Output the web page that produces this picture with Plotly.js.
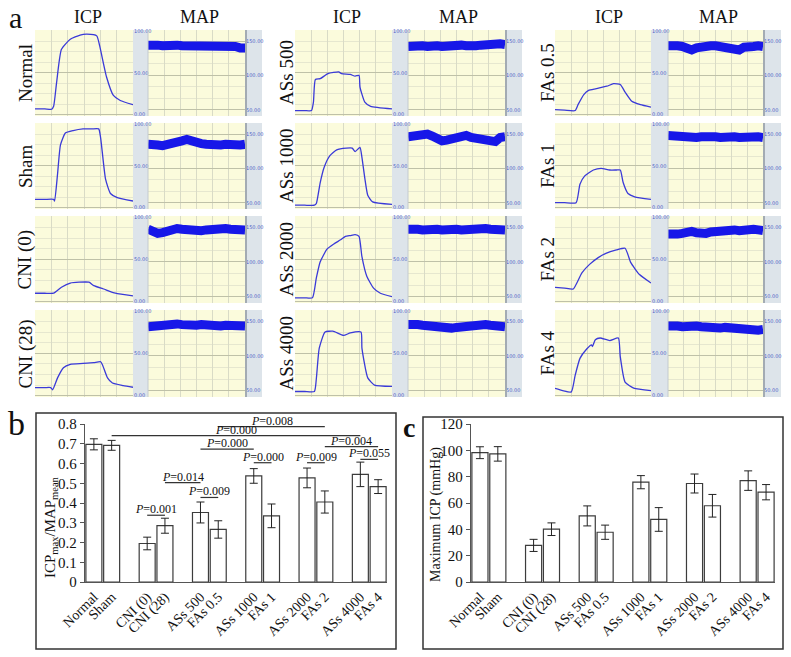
<!DOCTYPE html>
<html><head><meta charset="utf-8">
<script src="https://cdn.plot.ly/plotly-3.0.1.min.js"></script>
<style>html,body{margin:0;padding:0;background:#fff}#chart{width:791px;height:657px}</style>
</head><body><div id="chart"></div>
<script>
// ---------------- DATA ----------------
const groupLabels = ['Normal','Sham','CNI (0)','CNI (28)','ASs 500','FAs 0.5','ASs 1000','FAs 1','ASs 2000','FAs 2','ASs 4000','FAs 4'];
const ratioMean = [0.697,0.692,0.195,0.285,0.352,0.266,0.537,0.335,0.527,0.405,0.545,0.483];
const ratioErr  = [0.028,0.025,0.032,0.038,0.053,0.044,0.037,0.060,0.050,0.056,0.062,0.035];
const icpMaxMean = [98.2,97.3,27.8,40.1,50.2,37.8,75.8,47.5,74.8,57.9,77.0,68.2];
const icpMaxErr  = [4.5,5.5,4.6,4.8,7.6,5.4,5.0,9.0,7.2,8.6,7.4,5.8];

const sigFrom  = ['FAs 0.5','Sham','ASs 500','FAs 2','ASs 1000','ASs 2000','ASs 4000','CNI (28)','ASs 500','CNI (0)'];
const sigTo    = ['FAs 2','ASs 4000','ASs 1000','FAs 4','FAs 1','FAs 2','FAs 4','ASs 500','FAs 0.5','CNI (28)'];
const sigLevel = [0.787,0.741,0.673,0.685,0.604,0.604,0.621,0.503,0.428,0.338];
const sigText  = ['0.008','0.000','0.000','0.004','0.000','0.009','0.055','0.014','0.009','0.001'];

const panelNames = ['Normal','Sham','CNI (0)','CNI (28)','ASs 500','ASs 1000','ASs 2000','ASs 4000','FAs 0.5','FAs 1','FAs 2','FAs 4'];

const icpTNormal = [0,10,17,19,22,27,36,46,53,63,66,73,80,87,100];
const icpVNormal = [7,7,6.5,10,38,78,90,95,96,94,82,45,23,17,12];
const icpTSham   = [0,10,19,20,23,26,31,39,49,58,65,67,72,77,84,100];
const icpVSham   = [10,10,10,8,40,75,89,92,94,94,94,83,34,17,12,8];
const icpTCNI0   = [0,10,19,27,36,45,55,60,70,82,100];
const icpVCNI0   = [10,10,10,17,22,23,23,19,15,10,7];
const icpTCNI28  = [0,10,16,18,23,29,36,49,60,67,69,74,79,90,100];
const icpVCNI28  = [9.6,9.6,9.6,7,21,33,37,38,39,40,36,21,15,12,10];
const icpTAs500  = [0,10,17,19,21,26,34,45,48,57,62,66,67,72,78,100];
const icpVAs500  = [5,5,5,15,42,43,49,51,49,48,46,47,33,15,10,7];
const icpTAs1000 = [0,10,20,22,26,30,36,43,53,59,62,67,69,72,75,80,100];
const icpVAs1000 = [3,3,3,5,30,48,62,69,71,71,67,72,60,35,15,7,4];
const icpTAs2000 = [0,10,18,22,26,33,40,47,52,57,62,66,69,74,81,88,100];
const icpVAs2000 = [4.6,4.6,4.6,28,47,62,68,73,77,78,79,77,53,30,16,10,6];
const icpTAs4000 = [0,10,20,22,25,31,39,50,57,68,69,75,82,100];
const icpVAs4000 = [5,5,5,20,56,75,76,71,74,75,56,21,12.5,11];
const icpTFa05   = [0,10,21,24,30,35,43,54,61,68,73,80,89,100];
const icpVFa05   = [6,5.5,5,12,24,29,31,34,37,36,27,16,12,9];
const icpTFa1    = [0,10,22,26,31,40,48,57,64,68,71,76,83,100];
const icpVFa1    = [6,6,6,28,38,45,47,45,45,45,30,17,13,10];
const icpTFa2    = [0,10,19,28,36,45,53,64,73,79,88,100];
const icpVFa2    = [17,16,15,34,44,52,57,61,63,46,32,22];
const icpTFa4    = [0,8,17,21,26,33,38,39,42,47,57,66,68,73,82,100];
const icpVFa4    = [8.6,6,4.5,24,44,55,60,58,66,68,65,68,46,16,9,6];

const mapT       = [0,5,10,15,20,25,30,35,40,45,50,55,60,65,70,75,80,85,90,95,100];
const mapNormal  = [144,145,144,143,144,145,144,143,143,144,145,144,143,143,144,143,144,143,142,140,140];
const mapSham    = [135,136,134,133,134,135,137,140,142,139,137,136,135,134,133,134,135,134,135,134,135];
const mapCNI0    = [147,144,141,142,145,147,148,147,146,145,146,145,146,147,146,147,148,147,146,147,146];
const mapCNI28   = [142,143,144,145,144,145,146,145,144,145,144,145,144,143,144,143,144,143,142,143,143];
const mapAs500   = [142,143,144,143,142,144,143,142,143,142,143,144,143,142,143,144,145,144,145,146,145];
const mapAs1000  = [146,147,146,148,150,147,142,140,141,142,143,144,148,145,144,145,144,143,139,145,146];
const mapAs2000  = [147,148,147,146,147,148,147,146,147,148,147,146,147,147,146,147,148,147,146,147,146];
const mapAs4000  = [145,146,145,144,143,142,140,141,139,140,141,142,143,144,145,146,145,144,143,143,142];
const mapFa05    = [143,144,143,142,140,137,140,142,142,143,143,142,143,142,139,137,141,143,142,143,142];
const mapFa1     = [148,147,148,146,147,146,145,146,147,145,146,145,146,147,146,145,146,147,148,146,145];
const mapFa2     = [140,139,140,141,143,144,142,140,141,143,144,145,144,145,146,145,146,148,147,146,145];
const mapFa4     = [143,144,143,142,143,142,143,142,141,142,141,140,141,140,141,141,140,139,138,137,138];

const icpTimes  = [icpTNormal,icpTSham,icpTCNI0,icpTCNI28,icpTAs500,icpTAs1000,icpTAs2000,icpTAs4000,icpTFa05,icpTFa1,icpTFa2,icpTFa4];
const icpValues = [icpVNormal,icpVSham,icpVCNI0,icpVCNI28,icpVAs500,icpVAs1000,icpVAs2000,icpVAs4000,icpVFa05,icpVFa1,icpVFa2,icpVFa4];
const mapValues = [mapNormal,mapSham,mapCNI0,mapCNI28,mapAs500,mapAs1000,mapAs2000,mapAs4000,mapFa05,mapFa1,mapFa2,mapFa4];

// ---------------- LAYOUT ----------------
const W = 791, H = 657;
const px = v => v / W, py = v => 1 - v / H;
const SERIF = 'Liberation Serif, Times New Roman, serif';

const colICP = [[35,133],[295,392],[555,651]];
const colMAP = [[148,245],[408,505],[668,763]];
const colEnd = [262,522,781];
const rowY = [[30,116],[123,209],[216,303],[310,397]];

const traces = [];
const layout = {
  width: W, height: H, margin:{l:0,r:0,t:0,b:0},
  paper_bgcolor:'#ffffff', plot_bgcolor:'rgba(0,0,0,0)',
  showlegend:false, shapes:[], annotations:[], font:{family:SERIF, color:'#111'},
  bargap:0.1
};
const ax = (k) => k === 1 ? '' : String(k);

for (let p = 0; p < 12; p++) {
  const c = Math.floor(p / 4), r = p % 4;
  const ki = 2*p + 1, km = 2*p + 2;
  const [yt, yb] = rowY[r];
  layout.shapes.push({type:'rect', xref:'paper', yref:'paper', x0:px(colICP[c][0]), x1:px(colICP[c][1]), y0:py(yb), y1:py(yt), fillcolor:'#fbfbdc', line:{width:0}, layer:'below'});
  layout.shapes.push({type:'rect', xref:'paper', yref:'paper', x0:px(colMAP[c][0]), x1:px(colMAP[c][1]), y0:py(yb), y1:py(yt), fillcolor:'#fbfbdc', line:{width:0}, layer:'below'});
  layout.shapes.push({type:'rect', xref:'paper', yref:'paper', x0:px(colICP[c][1]), x1:px(colMAP[c][0]), y0:py(yb), y1:py(yt), fillcolor:'#dde4ea', line:{width:0}, layer:'below'});
  layout.shapes.push({type:'rect', xref:'paper', yref:'paper', x0:px(colMAP[c][1]), x1:px(colEnd[c]), y0:py(yb), y1:py(yt), fillcolor:'#dde4ea', line:{width:0}, layer:'below'});
  layout.shapes.push({type:'line', xref:'paper', yref:'paper', x0:px(colMAP[c][1]+1), x1:px(colMAP[c][1]+1), y0:py(yb), y1:py(yt), line:{color:'#a3abb3', width:2}});
  layout.shapes.push({type:'line', xref:'paper', yref:'paper', x0:px(colMAP[c][0]), x1:px(colMAP[c][0]), y0:py(yb), y1:py(yt), line:{color:'#c3cad0', width:1}});

  const gridX = {range:[0,100], showgrid:true, gridcolor:'#d9dbc6', gridwidth:1, dtick:100/6, tick0:0,
                 showticklabels:false, ticks:'', zeroline:false, showline:false, fixedrange:true};
  layout['xaxis'+ax(ki)] = Object.assign({}, gridX, {domain:[px(colICP[c][0]), px(colICP[c][1])], anchor:'y'+ax(ki)});
  layout['xaxis'+ax(km)] = Object.assign({}, gridX, {domain:[px(colMAP[c][0]), px(colMAP[c][1])], anchor:'y'+ax(km)});
  layout['yaxis'+ax(ki)] = {domain:[py(yb), py(yt)], range:[-1.5,101], anchor:'x'+ax(ki), side:'right',
    tickmode:'array', tickvals:[0,50,100], ticktext:['0.00','50.00','100.00'],
    tickfont:{size:5, color:'#4c5cc6', family:'DejaVu Sans'}, ticks:'', ticklen:0,
    showgrid:true, gridcolor:'#bfc1a8', zeroline:false, showline:false, fixedrange:true,
    minor:{tick0:0, dtick:12.5, showgrid:true, gridcolor:'#e6e7cf', ticks:''}};
  layout['yaxis'+ax(km)] = {domain:[py(yb), py(yt)], range:[41,166], anchor:'x'+ax(km), side:'right',
    tickmode:'array', tickvals:[50,100,150], ticktext:['50.00','100.00','150.00'],
    tickfont:{size:5, color:'#4c5cc6', family:'DejaVu Sans'}, ticks:'', ticklen:0,
    showgrid:true, gridcolor:'#bfc1a8', zeroline:false, showline:false, fixedrange:true,
    minor:{tick0:0, dtick:50/3, showgrid:true, gridcolor:'#e6e7cf', ticks:''}};

  traces.push({type:'scatter', mode:'lines', x:icpTimes[p], y:icpValues[p], xaxis:'x'+ax(ki), yaxis:'y'+ax(ki),
    line:{color:'#3a3ad8', width:1.3, shape:'spline', smoothing:0.5}, hoverinfo:'skip'});
  traces.push({type:'scatter', mode:'lines', x:mapT, y:mapValues[p], xaxis:'x'+ax(km), yaxis:'y'+ax(km),
    line:{color:'#1717e8', width:9}, hoverinfo:'skip'});

  const labX = [25, 286, 547][c];
  layout.annotations.push({xref:'paper', yref:'paper', x:px(labX), y:py((yt+yb)/2), text:panelNames[p], textangle:-90,
    showarrow:false, xanchor:'center', yanchor:'middle', font:{family:SERIF, size:19, color:'#111'}});
}

const headX = [[88,200],[347,458],[609,718]];
headX.forEach(([a,b]) => {
  layout.annotations.push({xref:'paper', yref:'paper', x:px(a), y:py(17), xanchor:'center', yanchor:'middle', text:'ICP', showarrow:false, font:{family:SERIF, size:18, color:'#111'}});
  layout.annotations.push({xref:'paper', yref:'paper', x:px(b), y:py(17), xanchor:'center', yanchor:'middle', text:'MAP', showarrow:false, font:{family:SERIF, size:18, color:'#111'}});
});
layout.annotations.push({xref:'paper', yref:'paper', x:px(15), y:py(17), xanchor:'center', yanchor:'middle', text:'a', showarrow:false, font:{family:SERIF, size:30, color:'#111'}});
layout.annotations.push({xref:'paper', yref:'paper', x:px(16), y:py(423), xanchor:'center', yanchor:'middle', text:'b', showarrow:false, font:{family:SERIF, size:34, color:'#111'}});
layout.annotations.push({xref:'paper', yref:'paper', x:px(409), y:py(427), xanchor:'center', yanchor:'middle', text:'<b>c</b>', showarrow:false, font:{family:SERIF, size:28, color:'#111'}});

// ---------------- BAR PANELS ----------------
const catAxis = [];
groupLabels.forEach((g, i) => { catAxis.push(g); if (i % 2 === 1 && i < groupLabels.length - 1) catAxis.push(' '.repeat(i)); });
const pick = (arr) => catAxis.map(cn => { const i = groupLabels.indexOf(cn); return i >= 0 ? arr[i] : null; });

const barStyle = {type:'bar', marker:{color:'#ffffff', line:{color:'#3c3c3c', width:1.2}}, hoverinfo:'skip'};
traces.push(Object.assign({}, barStyle, {x:catAxis, y:pick(ratioMean), xaxis:'x25', yaxis:'y25',
  error_y:{type:'data', array:pick(ratioErr), color:'#222', thickness:1, width:4}}));
traces.push(Object.assign({}, barStyle, {x:catAxis, y:pick(icpMaxMean), xaxis:'x26', yaxis:'y26',
  error_y:{type:'data', array:pick(icpMaxErr), color:'#222', thickness:1, width:4}}));

const barX = {type:'category', categoryorder:'array', categoryarray:catAxis, range:[-0.5, catAxis.length-0.5],
  tickangle:-45, tickfont:{family:SERIF, size:14, color:'#111'}, showline:true, linecolor:'#555', linewidth:1.2,
  ticks:'', showgrid:false, zeroline:false, fixedrange:true};
const barY = {showline:true, linecolor:'#555', linewidth:1.2, ticks:'outside', ticklen:4, tickcolor:'#555',
  showgrid:false, zeroline:false, tickfont:{family:SERIF, size:15, color:'#111'}, fixedrange:true};
layout.xaxis25 = Object.assign({}, barX, {domain:[px(85), px(387)], anchor:'y25'});
layout.yaxis25 = Object.assign({}, barY, {domain:[py(582), py(424)], range:[0,0.8], dtick:0.1, anchor:'x25'});
layout.xaxis26 = Object.assign({}, barX, {domain:[px(471), px(775)], anchor:'y26'});
layout.yaxis26 = Object.assign({}, barY, {domain:[py(582), py(424)], range:[0,120], dtick:20, anchor:'x26'});

layout.shapes.push({type:'rect', xref:'paper', yref:'paper', x0:px(36), x1:px(396), y0:py(649), y1:py(413), line:{color:'#333', width:1.5}});
layout.shapes.push({type:'rect', xref:'paper', yref:'paper', x0:px(423), x1:px(783), y0:py(649), y1:py(417), line:{color:'#333', width:1.5}});

layout.annotations.push({xref:'paper', yref:'paper', x:px(51), y:py(527), xanchor:'center', yanchor:'middle', text:'ICP<sub>max</sub>/MAP<sub>mean</sub>', textangle:-90,
  showarrow:false, font:{family:SERIF, size:15, color:'#111'}});
layout.annotations.push({xref:'paper', yref:'paper', x:px(436), y:py(514), xanchor:'center', yanchor:'middle', text:'Maximum ICP (mmHg)', textangle:-90,
  showarrow:false, font:{family:SERIF, size:14, color:'#111'}});

sigFrom.forEach((f, i) => {
  const a = catAxis.indexOf(f), b = catAxis.indexOf(sigTo[i]);
  layout.shapes.push({type:'line', xref:'x25', yref:'y25', x0:a, x1:b, y0:sigLevel[i], y1:sigLevel[i], line:{color:'#333', width:1.2}});
  layout.annotations.push({xref:'x25', yref:'y25', x:(a+b)/2, y:sigLevel[i], yanchor:'bottom', yshift:-3,
    text:'<i>P</i>=' + sigText[i], showarrow:false, font:{family:SERIF, size:12, color:'#111'}});
});

Plotly.newPlot('chart', traces, layout, {displayModeBar:false, staticPlot:true});
</script>
</body></html>
